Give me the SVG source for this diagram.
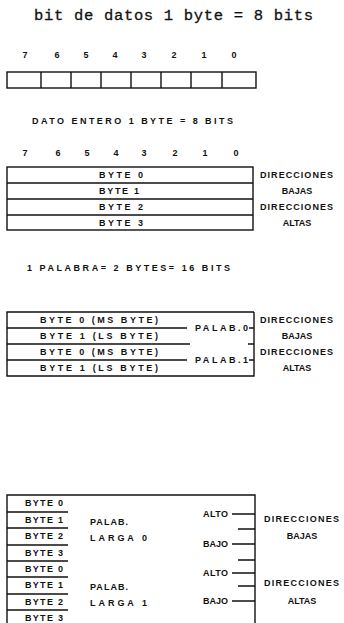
<svg xmlns="http://www.w3.org/2000/svg" width="344" height="623" viewBox="0 0 344 623">
<style>
.ln{stroke:#111;stroke-width:1.4;fill:none}
.t{font-family:"Liberation Sans",Arial,sans-serif;font-weight:bold;font-size:9px;fill:#111}
.m{text-anchor:middle}
.title{font-family:"Liberation Mono","Courier New",monospace;font-size:15.5px;fill:#111;stroke:#111;stroke-width:0.3}
</style>
<rect width="344" height="623" fill="#fff"/>
<g id="title"><text class="title" x="34" y="20" textLength="279" lengthAdjust="spacing">bit de datos 1 byte = 8 bits</text></g>

<g id="bits1">
<g class="t m">
<text x="25" y="58">7</text><text x="57" y="58">6</text><text x="86" y="58">5</text><text x="115" y="58">4</text>
<text x="144" y="58">3</text><text x="174" y="58">2</text><text x="204" y="58">1</text><text x="234" y="58">0</text>
</g>
<rect class="ln" x="7" y="72" width="249" height="16"/>
<path class="ln" d="M41 72V88M71 72V88M101 72V88M131 72V88M161 72V88M191 72V88M222 72V88"/>
</g>

<g id="dato-entero">
<text class="t" x="32" y="124" textLength="201" lengthAdjust="spacing">DATO ENTERO 1 BYTE = 8 BITS</text>
<g class="t m">
<text x="25" y="156">7</text><text x="58" y="156">6</text><text x="87" y="156">5</text><text x="116" y="156">4</text>
<text x="144" y="156">3</text><text x="175" y="156">2</text><text x="205" y="156">1</text><text x="236" y="156">0</text>
</g>
</g>

<g id="bytes-table">
<rect class="ln" x="7" y="167" width="246" height="63"/>
<path class="ln" d="M7 183H253M7 199H253M7 215H253"/>
<text class="t" x="99" y="178" textLength="44" lengthAdjust="spacing">BYTE 0</text>
<text class="t" x="99" y="194" textLength="40" lengthAdjust="spacing">BYTE 1</text>
<text class="t" x="99" y="210" textLength="44" lengthAdjust="spacing">BYTE 2</text>
<text class="t" x="99" y="226" textLength="44" lengthAdjust="spacing">BYTE 3</text>
<text class="t" x="260" y="178" textLength="73" lengthAdjust="spacing">DIRECCIONES</text>
<text class="t m" x="297" y="194">BAJAS</text>
<text class="t" x="260" y="210" textLength="73" lengthAdjust="spacing">DIRECCIONES</text>
<text class="t m" x="297" y="226">ALTAS</text>
</g>

<g id="palabra-table">
<text class="t" x="27" y="271" textLength="203" lengthAdjust="spacing">1 PALABRA= 2 BYTES= 16 BITS</text>
<path class="ln" d="M254 312H7V376H254V312"/>
<path class="ln" d="M7 328H187M7 344H190M7 360H187M249 328H254M248 344H254M249 360H254"/>
<text class="t" x="40" y="323" textLength="118" lengthAdjust="spacing">BYTE 0 (MS BYTE)</text>
<text class="t" x="40" y="339" textLength="118" lengthAdjust="spacing">BYTE 1 (LS BYTE)</text>
<text class="t" x="40" y="355" textLength="118" lengthAdjust="spacing">BYTE 0 (MS BYTE)</text>
<text class="t" x="40" y="371" textLength="118" lengthAdjust="spacing">BYTE 1 (LS BYTE)</text>
<text class="t" x="195" y="331" textLength="53" lengthAdjust="spacing">PALAB.0</text>
<text class="t" x="195" y="363" textLength="53" lengthAdjust="spacing">PALAB.1</text>
<text class="t" x="260" y="323" textLength="73" lengthAdjust="spacing">DIRECCIONES</text>
<text class="t m" x="297" y="339">BAJAS</text>
<text class="t" x="260" y="355" textLength="73" lengthAdjust="spacing">DIRECCIONES</text>
<text class="t m" x="297" y="371">ALTAS</text>
</g>

<g id="palabra-larga-table">
<path class="ln" d="M7 623V495H255V623"/>
<path class="ln" d="M7 512H68M7 528H68M7 545H68M7 561H68M7 577H68M7 594H68M7 610H68"/>
<path class="ln" d="M232 514H255M232 544H255M232 573H255M232 601H255M238 529H255M238 560H255M238 586H255"/>
<g class="t">
<text x="25" y="506" textLength="38" lengthAdjust="spacing">BYTE 0</text>
<text x="25" y="523" textLength="38" lengthAdjust="spacing">BYTE 1</text>
<text x="25" y="539" textLength="38" lengthAdjust="spacing">BYTE 2</text>
<text x="25" y="556" textLength="38" lengthAdjust="spacing">BYTE 3</text>
<text x="25" y="572" textLength="38" lengthAdjust="spacing">BYTE 0</text>
<text x="25" y="588" textLength="38" lengthAdjust="spacing">BYTE 1</text>
<text x="25" y="605" textLength="38" lengthAdjust="spacing">BYTE 2</text>
<text x="25" y="621" textLength="38" lengthAdjust="spacing">BYTE 3</text>
<text x="90" y="525" textLength="38" lengthAdjust="spacing">PALAB.</text>
<text x="90" y="541" textLength="57" lengthAdjust="spacing">LARGA 0</text>
<text x="90" y="590" textLength="38" lengthAdjust="spacing">PALAB.</text>
<text x="90" y="606" textLength="57" lengthAdjust="spacing">LARGA 1</text>
<text x="203" y="517" textLength="25" lengthAdjust="spacing">ALTO</text>
<text x="203" y="547" textLength="25" lengthAdjust="spacing">BAJO</text>
<text x="203" y="576" textLength="25" lengthAdjust="spacing">ALTO</text>
<text x="203" y="604" textLength="25" lengthAdjust="spacing">BAJO</text>
<text x="264" y="522" textLength="75" lengthAdjust="spacing">DIRECCIONES</text>
<text x="302" y="539" class="m">BAJAS</text>
<text x="264" y="586" textLength="75" lengthAdjust="spacing">DIRECCIONES</text>
<text x="302" y="604" class="m">ALTAS</text>
</g>
</g>
</svg>
